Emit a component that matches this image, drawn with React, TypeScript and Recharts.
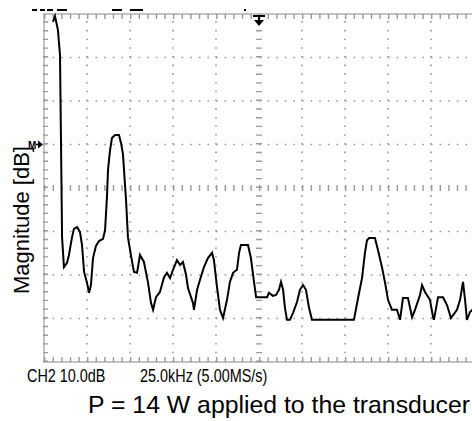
import React from 'react'
import { LineChart, Line, XAxis, YAxis, ReferenceLine, ReferenceArea, ReferenceDot } from 'recharts'

// spectrum trace: frequency (kHz), magnitude (dB above bottom of screen)
const freqKHz = [
  5.2, 6.4, 8.1, 9.3, 9.9, 10.5, 11.6, 13.4, 14.5, 16.3, 17.4, 19.2, 20.9, 22.1, 23.3, 25.0, 26.2, 27.3, 28.5, 30.2,
  32.0, 34.3, 35.5, 36.6, 37.2, 38.4, 39.5, 41.3, 43.6, 44.8, 45.9, 47.7, 48.8, 50.6, 52.3, 54.1, 55.8, 58.1, 60.5, 62.2,
  63.4, 65.1, 67.4, 69.8, 71.5, 73.3, 75.0, 77.3, 79.1, 80.8, 82.6, 83.7, 86.6, 87.2, 89.0, 90.7, 93.0, 95.3, 97.7, 98.8,
  100.6, 102.3, 104.1, 106.4, 108.1, 109.9, 112.2, 113.4, 114.5, 118.6, 120.3, 122.1, 123.3, 129.7, 130.8, 133.1, 134.9, 136.6, 137.8, 139.0,
  140.1, 141.3, 143.0, 144.8, 147.1, 148.8, 150.6, 152.3, 154.1, 155.8, 180.2, 182.6, 184.9, 186.6, 187.8, 189.0, 192.4, 194.2, 196.5, 198.3,
  200.0, 202.3, 205.2, 207.0, 208.7, 211.6, 214.0, 215.7, 218.6, 219.8, 221.5, 224.4, 226.2, 226.7, 229.1, 232.0, 234.3, 236.6, 240.1, 241.9,
  243.6, 244.8, 245.9, 247.7, 250.0,
]
const magDb = [
  78.2, 79.5, 76.3, 70.6, 50.1, 28.7, 21.8, 22.8, 24.6, 28.7, 30.6, 31.0, 29.9, 26.9, 20.7, 18.2, 15.9, 17.7, 23.9, 26.7,
  27.8, 28.3, 30.3, 37.9, 44.1, 48.7, 51.5, 52.2, 52.2, 50.3, 47.8, 37.2, 28.7, 24.4, 20.7, 20.5, 24.6, 23.0, 18.2, 13.6,
  12.0, 14.9, 16.1, 19.5, 20.5, 19.3, 21.2, 23.4, 22.3, 23.0, 20.0, 17.0, 13.6, 12.0, 16.6, 18.9, 21.8, 23.9, 25.1, 23.4,
  17.2, 12.0, 10.1, 14.3, 18.4, 20.5, 21.2, 25.1, 26.9, 26.9, 23.9, 18.4, 14.9, 14.9, 15.9, 15.2, 15.4, 16.6, 18.4, 16.6,
  12.4, 9.7, 9.7, 11.3, 13.8, 16.6, 17.7, 16.6, 12.4, 9.7, 9.7, 14.7, 19.3, 25.1, 28.0, 28.5, 28.5, 25.7, 21.8, 18.2,
  14.3, 12.0, 12.0, 9.7, 14.7, 14.7, 10.3, 12.0, 15.4, 17.7, 16.1, 14.3, 10.3, 9.7, 14.9, 14.9, 13.1, 10.1, 12.0, 14.3,
  18.4, 14.3, 9.7, 11.5, 12.4,
]

// screen divisions: 10 x 25 kHz, 8 x 10 dB
const xDivs = [25, 50, 75, 100, 150, 175, 200, 225]
const yDivs = [10, 20, 30, 50, 60, 70]
const xCenter = 125
const yCenter = 40
const markerDb = 50

const data = freqKHz.map((f, i) => ({ f, db: magDb[i] }))

const gridGray = '#9a9a9a'
const sansFont = '"Liberation Sans", Arial, sans-serif'

const TriggerArrow = (props: any) => {
  const { cx, cy } = props
  return (
    <g>
      <path d={`M${cx - 6},${cy + 2} H${cx + 6} M${cx},${cy + 2} V${cy + 8}`} stroke="#000" strokeWidth={2} />
      <path d={`M${cx - 5},${cy + 6} L${cx + 5},${cy + 6} L${cx},${cy + 12} Z`} fill="#000" />
    </g>
  )
}

const LevelMarker = (props: any) => {
  const { cx, cy } = props
  return (
    <g>
      <text x={cx - 16} y={cy + 4} fontSize={10} fontWeight="bold" fontFamily={sansFont} fill="#000">M</text>
      <path d={`M${cx - 8},${cy} H${cx - 3}`} stroke="#000" strokeWidth={1.5} />
      <path d={`M${cx - 6},${cy - 4} L${cx - 6},${cy + 4} L${cx - 1},${cy} Z`} fill="#000" />
    </g>
  )
}

const frag = (left: number, width: number) => (
  <div style={{ position: 'absolute', left, top: 9, width, height: 2, background: '#000' }} />
)

const narrowText = (left: number, text: string) => (
  <div
    style={{
      position: 'absolute', left, top: 367, lineHeight: '18px', fontFamily: sansFont, fontSize: 18, color: '#000',
      whiteSpace: 'nowrap', transform: 'scaleX(0.8)', transformOrigin: 'left top',
    }}
  >
    {text}
  </div>
)

export default function App() {
  return (
    <div style={{ position: 'fixed', left: 0, top: 0, width: 472, height: 421, overflow: 'hidden', background: '#fff' }}>
      {frag(32, 5)}
      {frag(40, 5)}
      {frag(47, 6)}
      {frag(57, 10)}
      {frag(112, 10)}
      {frag(130, 13)}
      <div style={{ position: 'absolute', left: 244, top: 9, width: 2, height: 2, background: '#000' }} />

      <LineChart width={474} height={364} data={data} margin={{ top: 14, right: 0, bottom: 2, left: 44 }}>
        <XAxis dataKey="f" type="number" domain={[0, 250]} hide />
        <YAxis type="number" domain={[0, 80]} hide />
        {xDivs.map((v) => (
          <ReferenceLine key={`gx${v}`} x={v} stroke={gridGray} strokeWidth={1.6} strokeDasharray="1.6 7.1" />
        ))}
        {yDivs.map((v) => (
          <ReferenceLine key={`gy${v}`} y={v} stroke={gridGray} strokeWidth={1.6} strokeDasharray="1.6 7.0" />
        ))}
        <ReferenceArea x1={0} x2={250} y1={0} y2={80} fill="none" stroke="#c4c4c4" strokeWidth={2} />
        <ReferenceLine x={xCenter} stroke={gridGray} strokeWidth={6} strokeDasharray="1.4 7.3" />
        <ReferenceLine y={yCenter} stroke={gridGray} strokeWidth={6} strokeDasharray="1.4 7.2" />
        <ReferenceLine y={79.4} stroke={gridGray} strokeWidth={5} strokeDasharray="1.4 7.2" />
        <ReferenceLine y={0.6} stroke={gridGray} strokeWidth={5} strokeDasharray="1.4 7.2" />
        <ReferenceLine x={0.9} stroke={gridGray} strokeWidth={5} strokeDasharray="1.4 7.3" />
        <Line type="linear" dataKey="db" stroke="#000" strokeWidth={2} dot={false} isAnimationActive={false} />
        <ReferenceDot x={xCenter} y={80} r={0} shape={<TriggerArrow />} />
        <ReferenceDot x={0} y={markerDb} r={0} shape={<LevelMarker />} />
      </LineChart>

      <div
        style={{
          position: 'absolute', left: 22 - 80, top: 220 - 13, width: 160, height: 26, lineHeight: '26px',
          transform: 'rotate(-90deg)', textAlign: 'center', fontFamily: sansFont, fontSize: 22, color: '#000', whiteSpace: 'nowrap',
        }}
      >
        Magnitude [dB]
      </div>
      {narrowText(27, 'CH2 10.0dB')}
      {narrowText(140, '25.0kHz (5.00MS/s)')}
      <div style={{ position: 'absolute', left: 88, top: 392, lineHeight: '25px', fontFamily: sansFont, fontSize: 24.8, color: '#000', whiteSpace: 'nowrap' }}>
        P = 14 W applied to the transducer
      </div>
    </div>
  )
}
